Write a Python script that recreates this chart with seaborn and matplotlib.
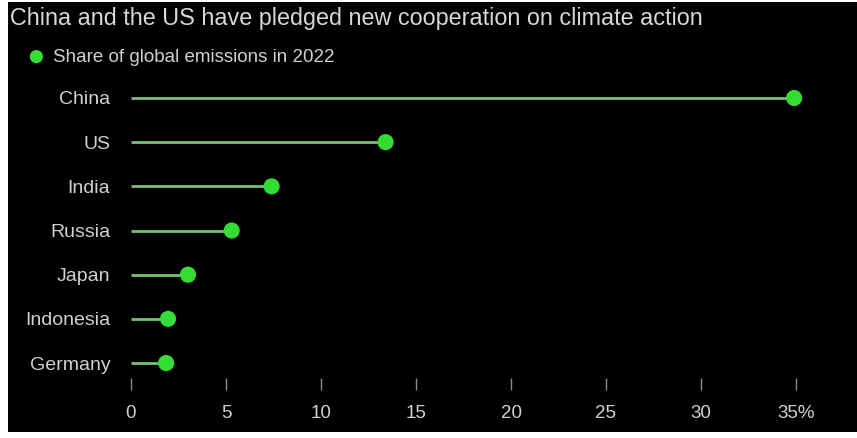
import matplotlib
matplotlib.use("Agg")
import matplotlib.pyplot as plt
from matplotlib.patches import Rectangle
import seaborn as sns
import pandas as pd

title = "China and the US have pledged new cooperation on climate action"
legend_label = "Share of global emissions in 2022"
countries = ["China", "US", "India", "Russia", "Japan", "Indonesia", "Germany"]
shares = [34.9, 13.4, 7.4, 5.3, 3.0, 1.95, 1.85]
xticks = [0, 5, 10, 15, 20, 25, 30, 35]
xticklabels = ["0", "5", "10", "15", "20", "25", "30", "35%"]

sns.set_theme(style="dark")
plt.rcParams['font.family'] = ['Liberation Sans', 'DejaVu Sans']

df = pd.DataFrame({"country": countries, "share": shares})

W, H = 857, 438
fig = plt.figure(figsize=(W / 100, H / 100), dpi=100, facecolor="white")
fig.patches.append(Rectangle((8 / W, 6 / H), 1, 1 - 8 / H, transform=fig.transFigure,
                             facecolor="black", edgecolor="none", zorder=-10))

ax = fig.add_axes([131 / W, 60 / H, 665 / W, 298 / H])
ax.set_facecolor("none")

dot_color = "#36dc36"
line_color = "#74c074"

sns.scatterplot(data=df, x="share", y="country", ax=ax, s=135, color=dot_color,
                edgecolor="none", zorder=3, clip_on=False, label=legend_label)
ax.hlines(df["country"], 0, df["share"], color=line_color, lw=2, zorder=2)

ax.set_xlim(0, 35)
ax.set_ylim(6.339, -0.4075)
ax.set_xticks(xticks)
ax.set_xticklabels(xticklabels)
ax.set_xlabel("")
ax.set_ylabel("")
for s in ax.spines.values():
    s.set_visible(False)
ax.grid(False)
ax.tick_params(axis="x", direction="out", length=8.5, width=1.0, color="#8c8c8c",
               pad=11, labelsize=13.5, labelcolor="#d0d0d0", bottom=True)
ax.tick_params(axis="y", length=0, pad=15, labelsize=14, labelcolor="#d0d0d0", left=False)
# axes spans pixel 80..378 vertically
ax.set_position([131 / W, 1 - 378 / H, 665 / W, 298 / H])

fig.text(10 / W, 1 - 18 / H, title, ha="left", va="center", fontsize=16.8, color="#d8d8d8")

ax.legend(loc="center left", bbox_to_anchor=(27 / W, 1 - 57 / H), bbox_transform=fig.transFigure,
          frameon=False, borderpad=0, borderaxespad=0, handlelength=1.0, handletextpad=0.4,
          markerscale=0.82, fontsize=13.5, labelcolor="#d0d0d0")

fig.savefig("out.png", dpi=100, facecolor=fig.get_facecolor())
